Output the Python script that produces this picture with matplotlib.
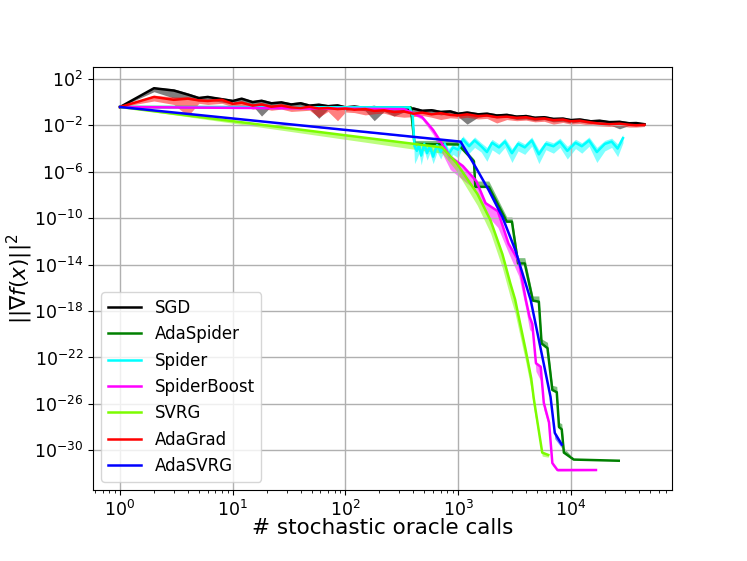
import numpy as np
import matplotlib
matplotlib.use("Agg")
import matplotlib.pyplot as plt

# data, y given as log10 exponents
noisy_x = [1, 2, 3, 4, 5, 6, 8, 10, 12, 15, 18, 22, 27, 33, 40, 48, 58, 70, 85, 100,
           120, 150, 180, 220, 270, 330, 400, 480, 580, 700, 850, 1000, 1200, 1500,
           1800, 2200, 2700, 3300, 4000, 4800, 5800, 7000, 8500, 10000, 12000, 15000,
           18000, 22000, 27000, 33000, 38000, 45000]

sgd_mean = [-0.42, 1.2, 1.0, 0.65, 0.35, 0.45, 0.25, 0.1, 0.3, 0.0, 0.12, -0.1, -0.02,
            -0.2, -0.1, -0.3, -0.22, -0.35, -0.28, -0.45, -0.38, -0.5, -0.42, -0.55,
            -0.5, -0.62, -0.55, -0.75, -0.7, -0.85, -0.8, -1.0, -0.9, -1.05, -1.0,
            -1.15, -1.1, -1.25, -1.2, -1.35, -1.3, -1.45, -1.42, -1.55, -1.5, -1.65,
            -1.6, -1.72, -1.7, -1.82, -1.8, -1.9]
sgd_lo = [-0.42, 0.9, 0.35, 0.3, 0.1, 0.2, 0.0, -0.15, -0.1, -0.3, -1.2, -0.35, -0.3,
          -0.45, -0.4, -0.55, -1.4, -0.6, -0.5, -0.7, -0.6, -0.75, -1.6, -0.8, -1.2,
          -0.85, -0.8, -0.95, -0.9, -1.1, -1.0, -1.25, -1.9, -1.3, -1.2, -1.35, -1.3,
          -1.5, -1.45, -1.6, -1.5, -1.7, -1.65, -1.8, -1.7, -1.85, -1.8, -1.95,
          -2.3, -2.0, -2.0, -2.05]
sgd_hi = [-0.42, 1.3, 1.15, 0.8, 0.5, 0.55, 0.4, 0.25, 0.4, 0.15, 0.25, 0.05, 0.1,
          -0.05, 0.05, -0.15, -0.1, -0.2, -0.15, -0.3, -0.25, -0.35, -0.3, -0.4, -0.35,
          -0.5, -0.4, -0.6, -0.55, -0.7, -0.65, -0.85, -0.75, -0.9, -0.85, -1.0, -0.95,
          -1.1, -1.05, -1.2, -1.15, -1.3, -1.28, -1.4, -1.35, -1.5, -1.48, -1.6,
          -1.55, -1.7, -1.7, -1.8]

adagrad_mean = [-0.42, 0.45, 0.2, 0.3, 0.15, 0.1, 0.2, -0.15, -0.05, -0.3, -0.2, -0.4,
                -0.3, -0.45, -0.5, -0.4, -0.55, -0.5, -0.6, -0.55, -0.65, -0.6, -0.75,
                -0.7, -0.85, -0.8, -1.0, -0.9, -1.05, -0.95, -1.1, -1.15, -1.05, -1.2,
                -1.15, -1.3, -1.25, -1.35, -1.3, -1.45, -1.4, -1.55, -1.5, -1.65, -1.6,
                -1.75, -1.85, -1.9, -1.85, -1.95, -2.0, -1.95]
adagrad_lo = [-0.42, 0.1, -0.2, -1.2, -0.1, -0.2, -0.1, -0.4, -0.3, -0.6, -0.5, -0.7,
              -0.6, -0.8, -0.75, -0.7, -1.3, -0.8, -1.6, -0.85, -0.9, -1.1, -1.0,
              -0.95, -1.2, -1.3, -1.25, -1.15, -1.3, -1.5, -1.35, -1.4, -1.3, -1.45,
              -1.4, -1.8, -1.5, -1.6, -1.55, -1.7, -1.65, -1.9, -1.75, -1.9, -1.85,
              -2.0, -2.05, -2.1, -2.05, -2.15, -2.15, -2.1]
adagrad_hi = [-0.42, 0.6, 0.45, 0.45, 0.3, 0.25, 0.3, 0.0, 0.1, -0.15, -0.05, -0.25,
              -0.15, -0.3, -0.35, -0.25, -0.4, -0.35, -0.45, -0.4, -0.5, -0.45, -0.6,
              -0.55, -0.7, -0.65, -0.85, -0.75, -0.9, -0.8, -0.95, -1.0, -0.9, -1.05,
              -1.0, -1.15, -1.1, -1.2, -1.15, -1.3, -1.25, -1.4, -1.35, -1.5, -1.45,
              -1.6, -1.7, -1.75, -1.7, -1.8, -1.85, -1.8]

spider_x = [1, 370, 395, 410, 430, 450, 470, 500, 530, 560, 600, 650, 700, 760, 820, 900,
            1000, 1100, 1250, 1400, 1600, 1800, 2000, 2300, 2600, 3000, 3400, 3900, 4500,
            5200, 6000, 7000, 8000, 9300, 11000, 12500, 14500, 17000, 20000, 23000,
            26000, 29000]
spider_mean = [-0.42, -0.45, -1.2, -3.8, -4.2, -3.7, -4.6, -3.6, -4.4, -3.8, -4.7, -3.7,
               -4.3, -3.6, -4.5, -3.9, -4.1, -3.2, -3.8, -3.3, -3.8, -4.3, -3.5, -3.9,
               -3.4, -4.4, -3.6, -3.9, -3.3, -4.5, -3.6, -3.8, -3.4, -4.2, -3.5, -3.8,
               -3.3, -4.3, -3.6, -3.4, -4.0, -3.1]
spider_lo = [-0.42, -0.5, -1.6, -5.3, -4.9, -4.4, -5.4, -4.2, -5.0, -4.4, -5.3, -4.3,
             -4.9, -4.1, -5.0, -4.5, -4.8, -3.8, -4.4, -3.9, -4.3, -5.1, -4.1, -4.5,
             -3.9, -5.2, -4.2, -4.5, -3.8, -5.3, -4.1, -4.4, -3.9, -4.9, -4.0, -4.4,
             -3.8, -5.2, -4.2, -3.9, -4.7, -3.5]
spider_hi = [-0.42, -0.38, -1.0, -3.4, -3.7, -3.4, -4.1, -3.3, -3.9, -3.5, -4.1, -3.4,
             -3.9, -3.3, -4.0, -3.6, -3.8, -2.9, -3.5, -3.0, -3.5, -3.9, -3.2, -3.6,
             -3.1, -4.0, -3.3, -3.6, -3.0, -4.1, -3.3, -3.5, -3.1, -3.8, -3.2, -3.5,
             -3.0, -3.9, -3.3, -3.1, -3.6, -2.8]

adaspider_x = [1, 380, 410, 1000, 1380, 1420, 1870, 2700, 3000, 3400, 3900, 4600, 5200,
               5500, 6200, 6850, 7500, 7850, 8300, 8670, 10600, 26600]
adaspider_mean = [-0.42, -0.45, -3.6, -3.65, -5.1, -7.3, -7.3, -10.3, -10.3, -13.9,
                  -13.9, -17.1, -17.2, -20.8, -21.2, -24.8, -25.0, -28.0, -28.2, -30.2,
                  -30.8, -30.9]
adaspider_hi = [-0.42, -0.4, -3.3, -3.3, -4.9, -6.8, -6.8, -9.9, -9.9, -13.4, -13.4,
                -16.7, -16.7, -20.4, -20.7, -24.4, -24.5, -27.6, -27.7, -29.8, -30.7,
                -30.85]

spiderboost_x = [1, 330, 480, 600, 720, 850, 1100, 1450, 1750, 2250, 2800, 3450, 3980,
                 4300, 4550, 4900, 5400, 5750, 6400, 6850, 7600, 16700]
spiderboost_mean = [-0.42, -0.6, -1.3, -2.4, -3.6, -4.7, -5.5, -6.8, -8.7, -9.4, -12.2,
                    -13.7, -17.0, -18.5, -19.1, -22.5, -22.8, -25.9, -27.6, -31.1,
                    -31.7, -31.7]
spiderboost_lo = [-0.42, -0.65, -1.5, -2.8, -4.4, -5.8, -6.7, -7.6, -9.6, -10.8, -13.0,
                  -15.0, -17.8, -19.6, -19.8, -23.2, -24.0, -26.5, -28.0, -31.3, -31.8,
                  -31.75]

svrg_x = [1, 720, 960, 1480, 1940, 2470, 2900, 3200, 3980, 4450, 4680, 5570, 6300]
svrg_mean = [-0.42, -3.9, -5.2, -7.9, -10.2, -13.1, -15.6, -17.0, -21.4, -23.8, -25.5,
             -30.2, -30.4]
svrg_lo = [-0.42, -4.4, -5.9, -8.9, -11.3, -14.3, -16.8, -18.2, -22.4, -24.8, -26.4,
           -30.5, -30.6]

adasvrg_x = [1, 1050, 1430, 1870, 2470, 3230, 4400, 5570, 6600, 7200, 8300]
adasvrg_mean = [-0.42, -3.4, -5.6, -7.6, -9.9, -12.8, -17.05, -21.9, -25.4, -28.5, -29.5]
adasvrg_lo = [-0.42, -3.45, -5.7, -7.7, -10.0, -12.9, -17.2, -22.1, -25.7, -29.0, -29.8]


def p(v):
    return 10.0 ** np.asarray(v)


fig = plt.figure(figsize=(7.47, 5.61), dpi=100)
ax = fig.add_axes([0.1245, 0.1266, 0.7755, 0.754])

ax.plot(noisy_x, p(sgd_mean), color='black', lw=1.8, label='SGD')
ax.fill_between(noisy_x, p(sgd_lo), p(sgd_hi), color='black', alpha=0.5, lw=0)

ax.plot(adaspider_x, p(adaspider_mean), color='green', lw=1.8, label='AdaSpider')
ax.fill_between(adaspider_x, p(adaspider_mean), p(adaspider_hi), color='green',
                alpha=0.5, lw=0)

ax.plot(spider_x, p(spider_mean), color='cyan', lw=1.8, label='Spider')
ax.fill_between(spider_x, p(spider_lo), p(spider_hi), color='cyan', alpha=0.5, lw=0)

ax.plot(spiderboost_x, p(spiderboost_mean), color='magenta', lw=1.8, label='SpiderBoost')
ax.fill_between(spiderboost_x, p(spiderboost_lo), p(spiderboost_mean), color='magenta',
                alpha=0.5, lw=0)

ax.plot(svrg_x, p(svrg_mean), color='lawngreen', lw=1.8, label='SVRG')
ax.fill_between(svrg_x, p(svrg_lo), p(svrg_mean), color='lawngreen', alpha=0.5, lw=0)

ax.plot(noisy_x, p(adagrad_mean), color='red', lw=1.8, label='AdaGrad')
ax.fill_between(noisy_x, p(adagrad_lo), p(adagrad_hi), color='red', alpha=0.5, lw=0)

ax.plot(adasvrg_x, p(adasvrg_mean), color='blue', lw=1.8, label='AdaSVRG')
ax.fill_between(adasvrg_x, p(adasvrg_lo), p(adasvrg_mean), color='blue', alpha=0.5, lw=0)

ax.set_xscale('log')
ax.set_yscale('log')
ax.set_xlim(10 ** -0.24, 10 ** 4.9)
ax.set_ylim(10 ** -33.42, 10 ** 3.03)
ax.set_yticks([10.0 ** k for k in range(2, -31, -4)])
ax.yaxis.set_minor_locator(matplotlib.ticker.NullLocator())
ax.tick_params(labelsize=12.5)
ax.grid(True, which='major', color='#b0b0b0', lw=1)

ax.set_xlabel('# stochastic oracle calls', fontsize=15.5, labelpad=-1)
ax.set_ylabel(r'$||\nabla f(x)||^2$', fontsize=15.5)
ax.yaxis.set_label_coords(-0.1, 0.5)
ax.legend(loc='lower left', fontsize=12)

fig.savefig('out.png', dpi=100)
